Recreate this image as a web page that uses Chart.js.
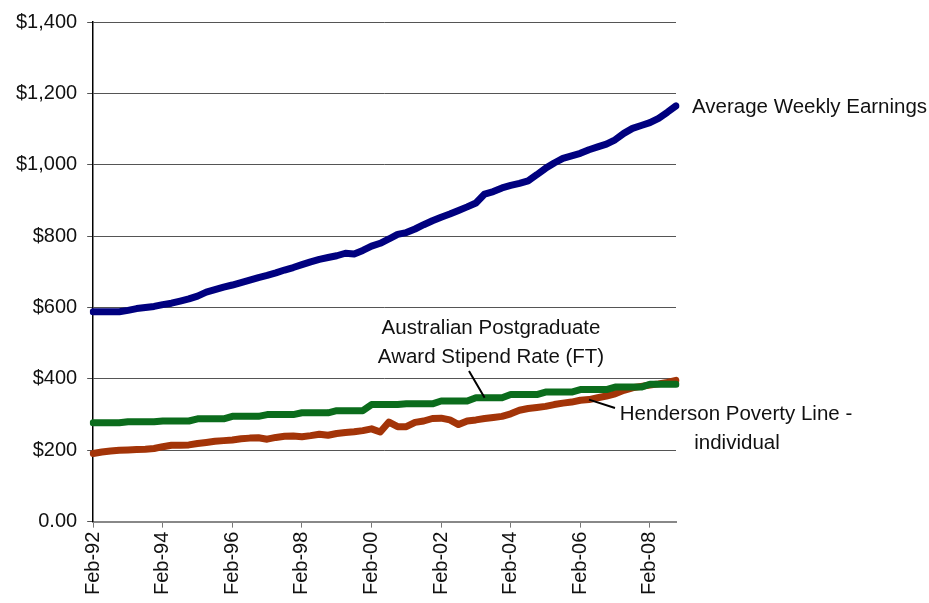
<!DOCTYPE html>
<html>
<head>
<meta charset="utf-8">
<script src="https://cdn.jsdelivr.net/npm/chart.js@4/dist/chart.umd.min.js"></script>
<style>
  html, body { margin: 0; padding: 0; background: #fff; }
  #wrap { width: 929px; height: 603px; }
</style>
</head>
<body>
<div id="wrap"><canvas id="grafik" width="929" height="603"></canvas></div>
<script>
// quarterly, Feb-92 .. Nov-08
var bulan = ['Feb', 'May', 'Aug', 'Nov'];
var kuartal = [];
for (var th = 92; th <= 108; th++) {
	for (var b = 0; b < 4; b++) {
		kuartal.push(bulan[b] + '-' + String(th % 100).padStart(2, '0'));
	}
}

var awe = [588, 588, 588, 588, 592, 597, 600, 603, 608, 612, 618, 624, 632, 643, 650, 657,
	663, 670, 677, 684, 690, 697, 705, 712, 720, 728, 735, 740, 745, 752, 750, 760,
	772, 780, 792, 805, 810, 820, 832, 843, 853, 862, 872, 882, 893, 918, 925, 935,
	942, 948, 955, 972, 990, 1005, 1018, 1025, 1032, 1042, 1050, 1058, 1070, 1088, 1102, 1110,
	1118, 1130, 1147, 1165];

var apa = [277, 277, 277, 277, 280, 280, 280, 280, 282, 282, 282, 282, 288, 288, 288, 288,
	295, 295, 295, 295, 300, 300, 300, 300, 305, 305, 305, 305, 311, 311, 311, 311,
	328, 328, 328, 328, 330, 330, 330, 330, 338, 338, 338, 338, 347, 347, 347, 347,
	356, 356, 356, 356, 363, 363, 363, 363, 370, 370, 370, 370, 377, 377, 377, 377,
	385, 385, 385, 385];

var henderson = [191, 195, 198, 200, 201, 202, 203, 205, 210, 214, 214, 215, 219, 222, 225, 227,
	229, 232, 234, 235, 231, 236, 239, 240, 238, 241, 245, 242, 247, 250, 252, 255,
	260, 251, 279, 266, 266, 278, 282, 289, 290, 285, 272, 282, 285, 289, 292, 295,
	302, 312, 317, 320, 323, 328, 332, 335, 340, 342, 347, 352, 358, 368, 375, 379,
	383, 386, 390, 396];

var yTicks = [0, 200, 400, 600, 800, 1000, 1200, 1400];

var warna = {
	biru: '#00007f',
	hijau: '#0b6c1c',
	coklat: '#a33408',
	teks: '#111111'
};
var huruf = '"Liberation Sans", Arial, sans-serif';

// labels and leader lines drawn next to the lines
var catatan = {
	id: 'catatan',
	afterDraw: function(chart) {
		var c = chart.ctx;
		var xs = chart.scales.x, ys = chart.scales.y;
		var n = kuartal.length - 1;
		c.save();
		c.fillStyle = warna.teks;
		c.font = '20.5px ' + huruf;
		c.textBaseline = 'middle';

		c.textAlign = 'left';
		c.fillText('Average Weekly Earnings', xs.getPixelForValue(n) + 16, ys.getPixelForValue(awe[n]) + 1);

		c.textAlign = 'center';
		c.fillText('Australian Postgraduate', 491, 328);
		c.fillText('Award Stipend Rate (FT)', 491, 357);
		c.fillText('Henderson Poverty Line -', 736, 414);
		c.fillText('individual', 737, 443);

		c.strokeStyle = '#000';
		c.lineWidth = 2;
		c.beginPath();
		c.moveTo(469, 371);
		c.lineTo(xs.getPixelForValue(45), ys.getPixelForValue(apa[45]));
		c.moveTo(xs.getPixelForValue(57), ys.getPixelForValue(henderson[57]));
		c.lineTo(615, 408);
		c.stroke();
		c.restore();
	}
};

var ctx = document.getElementById('grafik');
var grafikku = new Chart(ctx, {
	type: 'line',
	data: {
		labels: kuartal,
		datasets: [
			{ label: 'Average Weekly Earnings', data: awe, borderColor: warna.biru },
			{ label: 'Australian Postgraduate Award Stipend Rate (FT)', data: apa, borderColor: warna.hijau },
			{ label: 'Henderson Poverty Line - individual', data: henderson, borderColor: warna.coklat }
		]
	},
	options: {
		responsive: false,
		animation: false,
		events: [],
		layout: { padding: { top: 8, right: 253, left: 6, bottom: 4 } },
		elements: {
			line: { borderWidth: 7, tension: 0, borderCapStyle: 'round', borderJoinStyle: 'round' },
			point: { radius: 0 }
		},
		plugins: { legend: { display: false }, tooltip: { enabled: false } },
		scales: {
			x: {
				type: 'category',
				offset: false,
				afterBuildTicks: function(skala) {
					skala.ticks = skala.ticks.filter(function(t) { return t.value % 8 === 0; });
				},
				ticks: {
					autoSkip: false,
					minRotation: 90,
					maxRotation: 90,
					padding: 4,
					color: warna.teks,
					font: { family: huruf, size: 20 }
				},
				grid: {
					drawOnChartArea: false,
					drawTicks: true,
					tickLength: 6,
					tickColor: '#777'
				},
				border: { display: true, color: '#888', width: 2 }
			},
			y: {
				min: 0,
				max: 1400,
				afterBuildTicks: function(skala) {
					skala.ticks = yTicks.map(function(v) { return { value: v }; });
				},
				ticks: {
					padding: 10,
					color: warna.teks,
					font: { family: huruf, size: 20 },
					callback: function(v) {
						return v === 0 ? '0.00' : '$' + v.toLocaleString('en-US');
					}
				},
				grid: {
					color: function(k) { return k.tick && k.tick.value === 0 ? 'rgba(0,0,0,0)' : '#555'; },
					lineWidth: 1,
					tickLength: 6,
					tickColor: '#555'
				},
				border: { display: true, color: '#000', width: 1.5 }
			}
		}
	},
	plugins: [catatan]
});
</script>
</body>
</html>
